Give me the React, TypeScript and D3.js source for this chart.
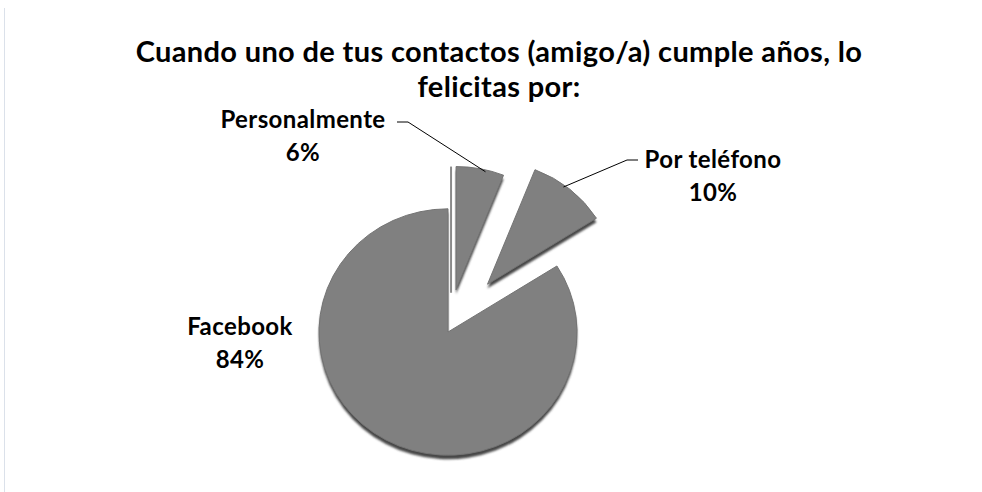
import React from 'react';
import * as d3 from 'd3';

const categories = ['Personalmente', 'Por teléfono', 'Facebook'];
const values = [6, 10, 84];
const percentLabels = ['6%', '10%', '84%'];
const titleLines = ['Cuando uno de tus contactos (amigo/a) cumple años, lo', 'felicitas por:'];

const W = 982;
const H = 492;
const cx = 448;
const cy = 332;
const R = 129;
const SY = 0.955;
const explode = [43, 62, 0];
const FONT = 'Lato, "Open Sans", sans-serif';

// label placement (styling)
const labelPos = [
  { x: 303, y: 128, anchor: 'middle' },
  { x: 713, y: 168, anchor: 'middle' },
  { x: 240, y: 335, anchor: 'middle' },
];
const leaderStart = [
  { x: 397, y: 122, dir: 1 },
  { x: 638, y: 160, dir: -1 },
  null,
];
const leaderFrac = [0.62, 0.42, 0];

export default function App() {
  const pie = d3.pie<number>().sort(null).value((d) => d).startAngle(0).endAngle(2 * Math.PI);
  const arcs = pie(values);
  const arc = d3.arc<d3.PieArcDatum<number>>().innerRadius(0).outerRadius(R);

  const slices = arcs.map((a, i) => {
    const mid = (a.startAngle + a.endAngle) / 2;
    const dx = explode[i] * Math.sin(mid);
    const dy = -explode[i] * Math.cos(mid);
    return { a, i, ox: cx + dx, oy: cy + dy, path: arc(a) as string };
  });

  return (
    <svg width={W} height={H} style={{ position: 'absolute', left: 0, top: 0, background: '#fff' }}>
      <defs>
        <filter id="blur1" x="-10%" y="-10%" width="120%" height="120%">
          <feGaussianBlur stdDeviation="1.3" />
        </filter>
        <filter id="soft" x="-5%" y="-5%" width="110%" height="110%">
          <feGaussianBlur stdDeviation="0.5" />
        </filter>
      </defs>
      <line x1={4.5} x2={4.5} y1={8} y2={H} stroke="#dbe1ea" strokeWidth={1} />

      {titleLines.map((t, k) => (
        <text
          key={k}
          x={499}
          y={62 + k * 35}
          textAnchor="middle"
          fontFamily={FONT}
          fontWeight={700}
          fontSize={29}
          letterSpacing={0.35}
          fill="#000"
        >
          {t}
        </text>
      ))}

      {/* side faces / shadows */}
      {slices.map((s) => (
        <g key={'sh' + s.i} transform={`translate(${s.ox},${s.oy + 4}) scale(1,${SY})`}>
          <path d={s.path} fill="#474747" filter="url(#blur1)" />
        </g>
      ))}

      {/* thin side edge left of Personalmente slice */}
      {(() => {
        const s = slices[0];
        const top = s.oy - R * SY;
        return (
          <line x1={s.ox - 5} x2={s.ox - 5} y1={top} y2={s.oy + 3} stroke="#8a8a8a" strokeWidth={2} />
        );
      })()}

      {slices.map((s) => (
        <g key={'sl' + s.i} transform={`translate(${s.ox},${s.oy}) scale(1,${SY})`}>
          <path d={s.path} fill="#808080" stroke="#737373" strokeWidth={1} filter="url(#soft)" />
        </g>
      ))}

      {/* leader lines */}
      {slices.map((s) => {
        const st = leaderStart[s.i];
        if (!st) return null;
        const ang = s.a.startAngle + (s.a.endAngle - s.a.startAngle) * leaderFrac[s.i];
        const ex = s.ox + (R - 2) * Math.sin(ang);
        const ey = s.oy - (R - 2) * SY * Math.cos(ang);
        const kx = st.x + st.dir * 11;
        return (
          <polyline
            key={'ld' + s.i}
            points={`${st.x},${st.y} ${kx},${st.y} ${ex},${ey}`}
            fill="none"
            stroke="#000"
            strokeWidth={1}
          />
        );
      })}

      {/* labels */}
      {categories.map((c, i) => (
        <text
          key={'lb' + i}
          x={labelPos[i].x}
          y={labelPos[i].y}
          textAnchor={labelPos[i].anchor as any}
          fontFamily={FONT}
          fontWeight={700}
          fontSize={24}
          letterSpacing={0.4}
          fill="#000"
        >
          <tspan x={labelPos[i].x}>{c}</tspan>
          <tspan x={labelPos[i].x} dy={33}>{percentLabels[i]}</tspan>
        </text>
      ))}
    </svg>
  );
}
